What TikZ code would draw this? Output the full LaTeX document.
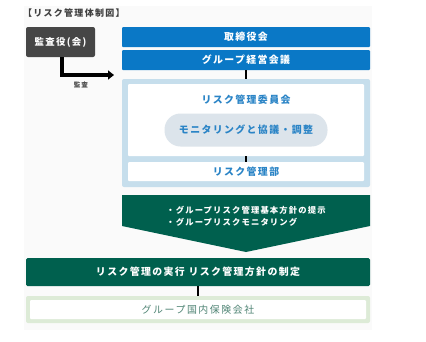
\documentclass[tikz,border=0pt]{standalone}
\usepackage{fontspec}
\setmainfont{Noto Sans CJK JP}
\usepackage{tikz}
\definecolor{Board}{HTML}{0A78C6}
\definecolor{Frame}{HTML}{C6DEEC}
\definecolor{Pill}{HTML}{DCE4EB}
\definecolor{BlueText}{HTML}{2A84C6}
\definecolor{Forest}{HTML}{00604E}
\definecolor{Leaf}{HTML}{DDEBD7}
\definecolor{LeafText}{HTML}{4F8474}
\definecolor{Audit}{HTML}{464646}
\definecolor{Paper}{HTML}{FAFAFA}
\usetikzlibrary{positioning,arrows.meta}
\newcommand{\jpf}[1]{\fontsize{#1}{12}\selectfont\bfseries\addfontfeature{LetterSpace=14}}

\begin{document}
\begin{tikzpicture}[
  x=1pt, y=-1pt, >=Latex,
  bx/.style={align=center, inner sep=0pt, font=\jpf{9.9}},
  blu/.style={bx, fill=Board, text=white, minimum width=248, minimum height=20, rounded corners=1pt},
  wb/.style={bx, fill=white, text=BlueText, minimum width=236, rounded corners=1pt},
  grn/.style={bx, fill=Forest, text=white, rounded corners=1.5pt},
  ln/.style={line width=1.3pt, black},
  lbl/.style={inner sep=0pt}]

\useasboundingbox (0,0) rectangle (426,341);
\fill[Paper] (24,6) rectangle (372,330);

% title and audit board
\node[lbl, anchor=west, font=\jpf{9}, text=black!75] (title) at (23,13) {【リスク管理体制図】};
\node[bx, fill=Audit, text=white, minimum width=69, minimum height=30, rounded corners=2pt,
      font=\jpf{9.4}] (aud) at (60.5,42) {監査役(会)};
\coordinate (audend) at (114,75);
\draw[line width=3.2pt, -{Triangle[length=6pt,width=9pt]}] (aud.south -| 62,0) |- (audend);
\node[lbl, font=\jpf{6.6}, text=black!70] (audlbl) at (81,85) {監査};

% board and group management
\node[blu] (board) at (246,37) {取締役会};
\node[blu] (mgmt) at (246,60) {グループ経営会議};

% risk committee block
\node[bx, fill=Frame, minimum width=248, minimum height=108, rounded corners=2pt] (frame) at (246,133) {};
\node[wb, minimum height=72] (comm) at (246,120) {};
\node[lbl, font=\jpf{9.9}, text=BlueText] (commlbl) at (246,100) {リスク管理委員会};
\node[bx, fill=Pill, text=BlueText, minimum width=163, minimum height=33, rounded corners=16pt] (pill) at (246,130) {モニタリングと協議・調整};
\node[wb, minimum height=19] (dept) at (246,171.5) {リスク管理部};
\draw[ln] (mgmt.south) -- (frame.north);
\draw[ln] (comm.south) -- (dept.north);

% policy arrow
\fill[Forest] (122,195) -- (370,195) -- (370,226) -- (246,252) -- (122,226) -- cycle;
\node[lbl, align=left, text=white, font=\jpf{8.3}] (policy) at (246,216)
  {・グループリスク管理基本方針の提示\\・グループリスクモニタリング};

% execution and group companies
\node[grn, minimum width=344, minimum height=28] (exec) at (198,272) {リスク管理の実行 リスク管理方針の制定};
\node[bx, fill=Leaf, minimum width=344, minimum height=27, rounded corners=2pt] (cofr) at (198,309.5) {};
\node[bx, fill=white, text=LeafText, minimum width=336, minimum height=19, rounded corners=1pt,
      font=\fontsize{9.9}{12}\selectfont\addfontfeature{LetterSpace=16}] (co) at (198,309.5) {グループ国内保険会社};
\draw[ln] (exec.south) -- (cofr.north);
\end{tikzpicture}
\end{document}
